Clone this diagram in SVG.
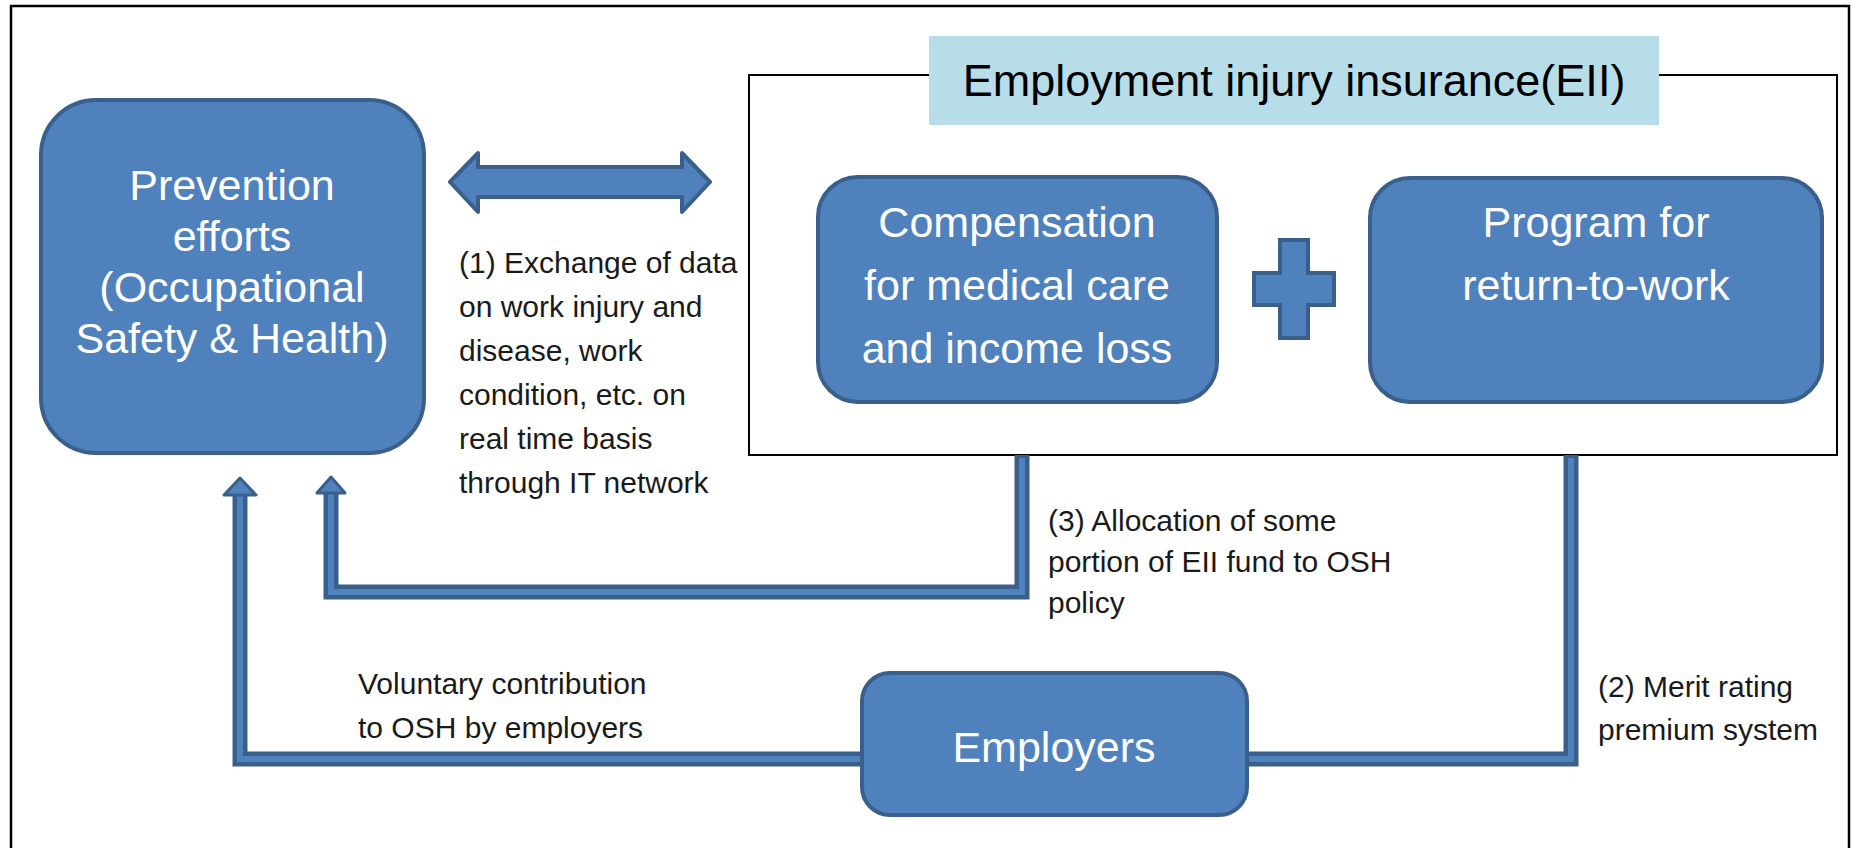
<svg xmlns="http://www.w3.org/2000/svg" width="1855" height="848" viewBox="0 0 1855 848">
<style>
.box{fill:#4F81BD;stroke:#3A5F8B;stroke-width:4}
.wt{fill:#FFFFFF;font-family:"Liberation Sans",Arial,sans-serif;font-size:43px;text-anchor:middle}
.lb{fill:#1A1A1A;font-family:"Liberation Sans",Arial,sans-serif;font-size:30px}
.cout{fill:none;stroke:#3A5F8B;stroke-width:15;stroke-linejoin:miter}
.cin{fill:none;stroke:#4F81BD;stroke-width:6;stroke-linejoin:miter}
.head{fill:#4F81BD;stroke:#3A5F8B;stroke-width:3;stroke-linejoin:round}
</style>
<rect width="1855" height="848" fill="#FFFFFF"/>
<path d="M11,848 V6 H1849 V848" fill="none" stroke="#000" stroke-width="2.5"/>

<g id="eii-frame">
<rect x="749" y="75" width="1088" height="380" fill="none" stroke="#000" stroke-width="2"/>
<rect x="929" y="36" width="730" height="89" fill="#B7DEE8"/>
<text x="1294" y="96" font-family="'Liberation Sans',Arial,sans-serif" font-size="45" text-anchor="middle" fill="#000">Employment injury insurance(EII)</text>
</g>

<g id="connectors">
<path class="cout" d="M1022,455 V592 H331 V490"/>
<path class="cin" d="M1022,458 V592 H331 V490"/>
<polygon class="head" points="331,477 345,493 317,493"/>
<path class="cout" d="M862,759 H240 V492"/>
<path class="cin" d="M862,759 H240 V492"/>
<polygon class="head" points="240,478 256,495 224,495"/>
<path class="cout" d="M1571,455 V759 H1247"/>
<path class="cin" d="M1571,458 V759 H1247"/>
<g id="double-arrow">
<polygon class="box" stroke-linejoin="round" points="450,182 478,153 478,167 682,167 682,153 710,182 682,212 682,197 478,197 478,212"/>
</g>
</g>

<g id="prevention">
<rect class="box" x="41" y="100" width="383" height="353" rx="55"/>
<text class="wt" x="232" y="200">Prevention</text>
<text class="wt" x="232" y="251">efforts</text>
<text class="wt" x="232" y="302">(Occupational</text>
<text class="wt" x="232" y="353">Safety &amp; Health)</text>
</g>

<g id="compensation">
<rect class="box" x="818" y="177" width="399" height="225" rx="40"/>
<text class="wt" x="1017" y="237">Compensation</text>
<text class="wt" x="1017" y="300">for medical care</text>
<text class="wt" x="1017" y="363">and income loss</text>
</g>

<g id="plus">
<polygon class="box" points="1280,240 1308,240 1308,273 1334,273 1334,305 1308,305 1308,338 1280,338 1280,305 1254,305 1254,273 1280,273"/>
</g>

<g id="program">
<rect class="box" x="1370" y="178" width="452" height="224" rx="40"/>
<text class="wt" x="1596" y="237">Program for</text>
<text class="wt" x="1596" y="300">return-to-work</text>
</g>

<g id="employers">
<rect class="box" x="862" y="673" width="385" height="142" rx="28"/>
<text class="wt" x="1054" y="762" font-size="44">Employers</text>
</g>

<g id="labels">
<text class="lb" x="459" y="273">(1) Exchange of data</text>
<text class="lb" x="459" y="317">on work injury and</text>
<text class="lb" x="459" y="361">disease, work</text>
<text class="lb" x="459" y="405">condition, etc. on</text>
<text class="lb" x="459" y="449">real time basis</text>
<text class="lb" x="459" y="493">through IT network</text>
<text class="lb" x="1048" y="531">(3) Allocation of some</text>
<text class="lb" x="1048" y="572">portion of EII fund to OSH</text>
<text class="lb" x="1048" y="613">policy</text>
<text class="lb" x="358" y="694">Voluntary contribution</text>
<text class="lb" x="358" y="738">to OSH by employers</text>
<text class="lb" x="1598" y="697">(2) Merit rating</text>
<text class="lb" x="1598" y="740">premium system</text>
</g>
</svg>
